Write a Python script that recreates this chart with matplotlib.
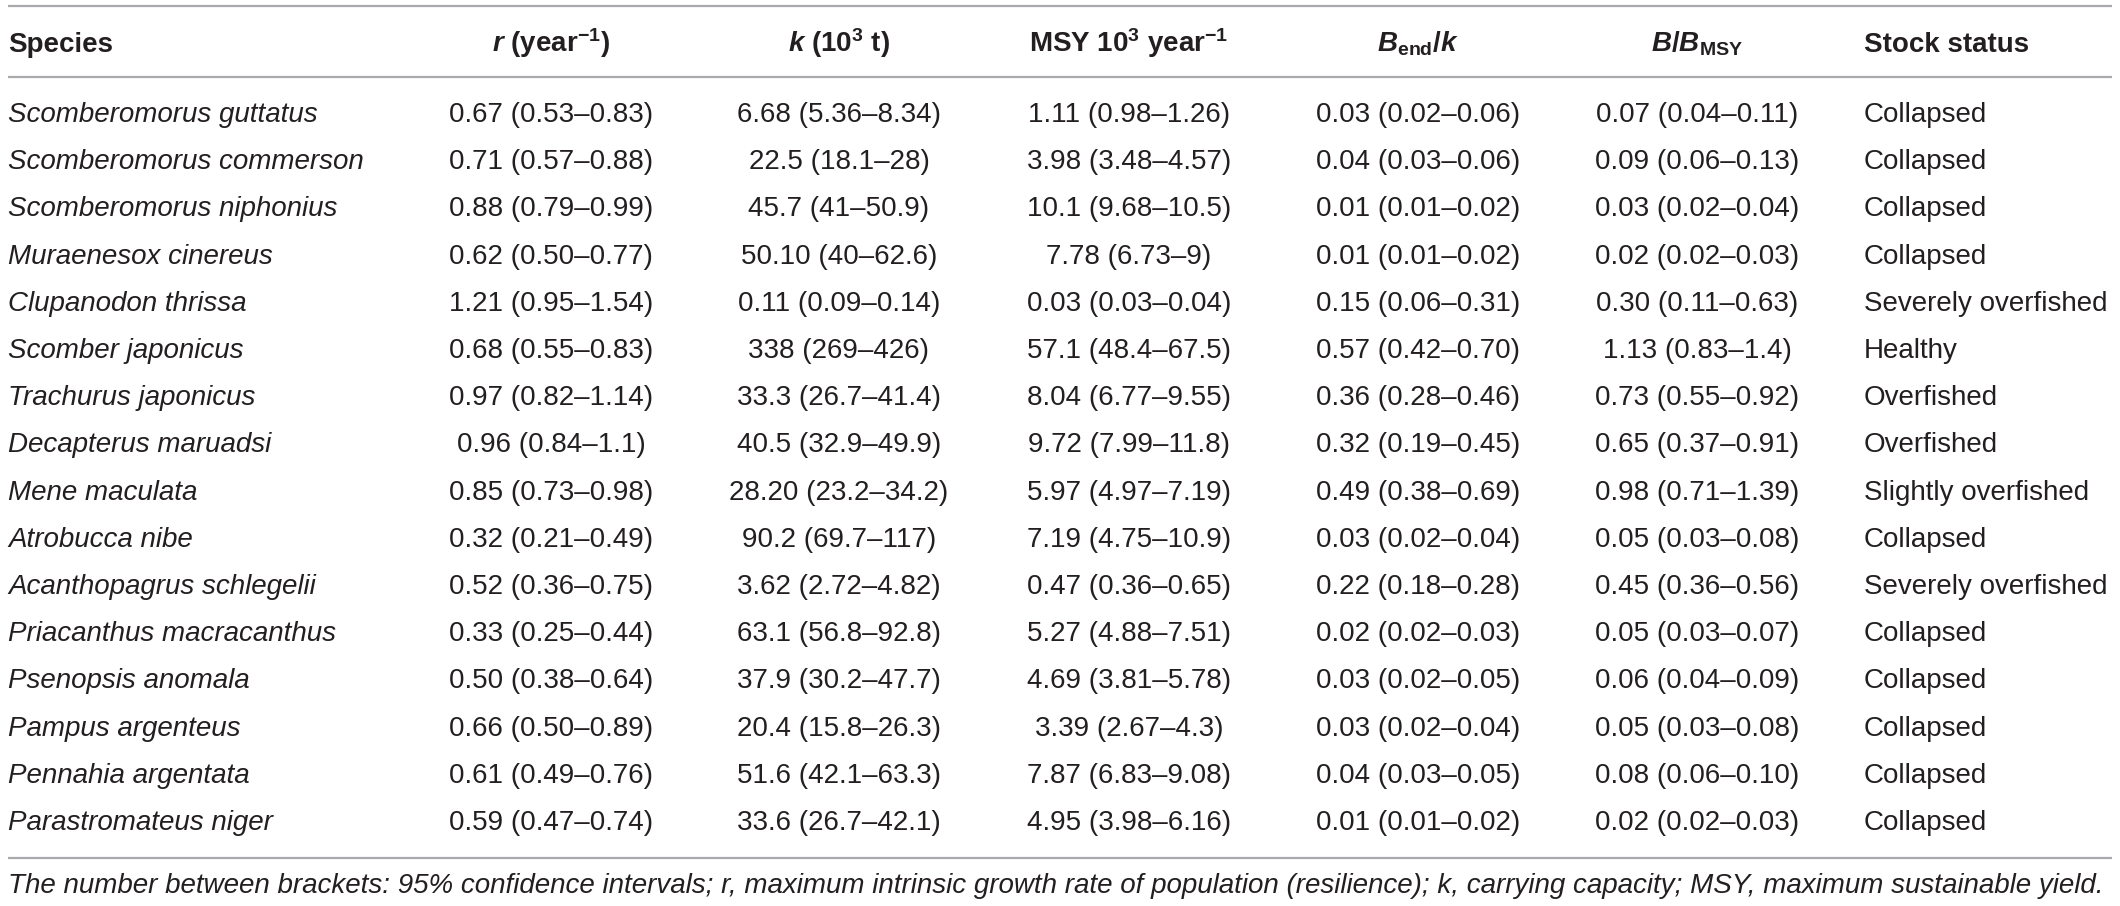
import matplotlib
matplotlib.use("Agg")
import matplotlib.pyplot as plt

plt.rcParams['font.family'] = ['Liberation Sans', 'DejaVu Sans']
plt.rcParams['mathtext.fontset'] = 'custom'
plt.rcParams['mathtext.rm'] = 'Liberation Sans:bold'
plt.rcParams['mathtext.bf'] = 'Liberation Sans:bold'
plt.rcParams['mathtext.it'] = 'Liberation Sans:italic'
plt.rcParams['mathtext.bfit'] = 'Liberation Sans:bold:italic'

# table contents
headers = [
    "Species",
    r"$\mathbfit{r}$ (year$^{\mathbf{-1}}$)",
    r"$\mathbfit{k}$ (10$^{\mathbf{3}}$ t)",
    r"MSY 10$^{\mathbf{3}}$ year$^{\mathbf{-1}}$",
    r"$\mathbfit{B}_{\mathbf{end}}/\mathbfit{k}$",
    r"$\mathbfit{B}/\mathbfit{B}_{\mathbf{MSY}}$",
    "Stock status",
]

species = [
    "Scomberomorus guttatus", "Scomberomorus commerson", "Scomberomorus niphonius",
    "Muraenesox cinereus", "Clupanodon thrissa", "Scomber japonicus",
    "Trachurus japonicus", "Decapterus maruadsi", "Mene maculata",
    "Atrobucca nibe", "Acanthopagrus schlegelii", "Priacanthus macracanthus",
    "Psenopsis anomala", "Pampus argenteus", "Pennahia argentata",
    "Parastromateus niger",
]

r_vals = [
    "0.67 (0.53–0.83)", "0.71 (0.57–0.88)", "0.88 (0.79–0.99)", "0.62 (0.50–0.77)",
    "1.21 (0.95–1.54)", "0.68 (0.55–0.83)", "0.97 (0.82–1.14)", "0.96 (0.84–1.1)",
    "0.85 (0.73–0.98)", "0.32 (0.21–0.49)", "0.52 (0.36–0.75)", "0.33 (0.25–0.44)",
    "0.50 (0.38–0.64)", "0.66 (0.50–0.89)", "0.61 (0.49–0.76)", "0.59 (0.47–0.74)",
]

k_vals = [
    "6.68 (5.36–8.34)", "22.5 (18.1–28)", "45.7 (41–50.9)", "50.10 (40–62.6)",
    "0.11 (0.09–0.14)", "338 (269–426)", "33.3 (26.7–41.4)", "40.5 (32.9–49.9)",
    "28.20 (23.2–34.2)", "90.2 (69.7–117)", "3.62 (2.72–4.82)", "63.1 (56.8–92.8)",
    "37.9 (30.2–47.7)", "20.4 (15.8–26.3)", "51.6 (42.1–63.3)", "33.6 (26.7–42.1)",
]

msy_vals = [
    "1.11 (0.98–1.26)", "3.98 (3.48–4.57)", "10.1 (9.68–10.5)", "7.78 (6.73–9)",
    "0.03 (0.03–0.04)", "57.1 (48.4–67.5)", "8.04 (6.77–9.55)", "9.72 (7.99–11.8)",
    "5.97 (4.97–7.19)", "7.19 (4.75–10.9)", "0.47 (0.36–0.65)", "5.27 (4.88–7.51)",
    "4.69 (3.81–5.78)", "3.39 (2.67–4.3)", "7.87 (6.83–9.08)", "4.95 (3.98–6.16)",
]

bend_k_vals = [
    "0.03 (0.02–0.06)", "0.04 (0.03–0.06)", "0.01 (0.01–0.02)", "0.01 (0.01–0.02)",
    "0.15 (0.06–0.31)", "0.57 (0.42–0.70)", "0.36 (0.28–0.46)", "0.32 (0.19–0.45)",
    "0.49 (0.38–0.69)", "0.03 (0.02–0.04)", "0.22 (0.18–0.28)", "0.02 (0.02–0.03)",
    "0.03 (0.02–0.05)", "0.03 (0.02–0.04)", "0.04 (0.03–0.05)", "0.01 (0.01–0.02)",
]

b_bmsy_vals = [
    "0.07 (0.04–0.11)", "0.09 (0.06–0.13)", "0.03 (0.02–0.04)", "0.02 (0.02–0.03)",
    "0.30 (0.11–0.63)", "1.13 (0.83–1.4)", "0.73 (0.55–0.92)", "0.65 (0.37–0.91)",
    "0.98 (0.71–1.39)", "0.05 (0.03–0.08)", "0.45 (0.36–0.56)", "0.05 (0.03–0.07)",
    "0.06 (0.04–0.09)", "0.05 (0.03–0.08)", "0.08 (0.06–0.10)", "0.02 (0.02–0.03)",
]

status = [
    "Collapsed", "Collapsed", "Collapsed", "Collapsed", "Severely overfished",
    "Healthy", "Overfished", "Overfished", "Slightly overfished", "Collapsed",
    "Severely overfished", "Collapsed", "Collapsed", "Collapsed", "Collapsed",
    "Collapsed",
]

footnote = ("The number between brackets: 95% confidence intervals; r, maximum intrinsic "
            "growth rate of population (resilience); k, carrying capacity; MSY, maximum "
            "sustainable yield.")

# layout (pixel coordinates)
W, H = 2120, 906
col_x = [8, 551, 839, 1129, 1418, 1697, 1864]
col_ha = ['left', 'center', 'center', 'center', 'center', 'center', 'left']
header_base = 52
row0_base = 122
row_step = 47.2
line_color = '#a7a9ac'
text_color = '#231f20'
fs = 20

fig = plt.figure(figsize=(W / 100, H / 100), dpi=100)
ax = fig.add_axes([0, 0, 1, 1])
ax.set_xlim(0, W)
ax.set_ylim(H, 0)
ax.axis('off')

for yl in [6, 77, 858]:
    ax.plot([8, 2112], [yl, yl], color=line_color, lw=1.6, solid_capstyle='butt')

for x, ha, h in zip(col_x, col_ha, headers):
    ax.text(x, header_base, h, ha=ha, va='baseline', fontsize=fs,
            fontweight='bold', color=text_color)

columns = [species, r_vals, k_vals, msy_vals, bend_k_vals, b_bmsy_vals, status]
for c, (x, ha, vals) in enumerate(zip(col_x, col_ha, columns)):
    for i, v in enumerate(vals):
        ax.text(x, row0_base + i * row_step, v, ha=ha, va='baseline', fontsize=fs,
                style='italic' if c == 0 else 'normal', color=text_color)

ax.text(8, 893, footnote, ha='left', va='baseline', fontsize=fs,
        style='italic', color=text_color)

fig.savefig('out.png', dpi=100)
